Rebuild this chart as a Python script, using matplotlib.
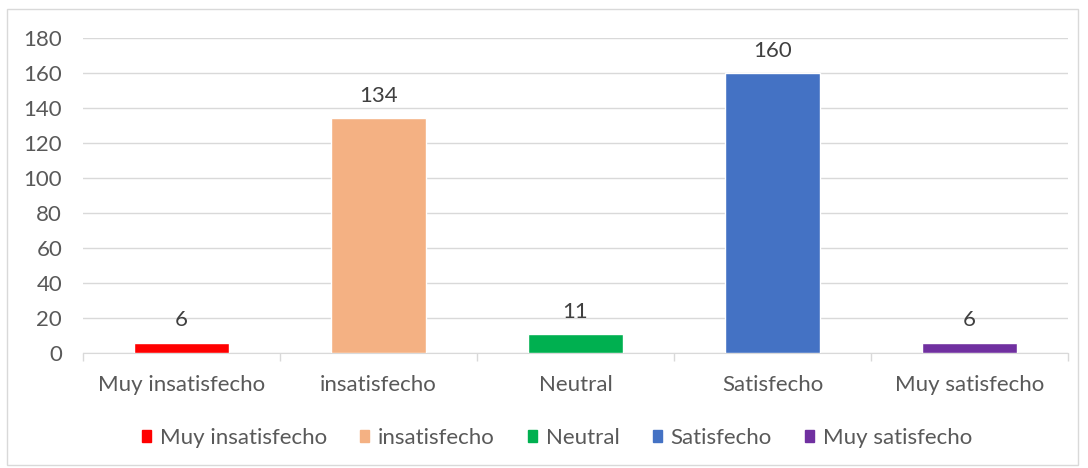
import matplotlib.pyplot as plt
from matplotlib.patches import Rectangle

# Data
categories = ['Muy insatisfecho', 'insatisfecho', 'Neutral', 'Satisfecho', 'Muy satisfecho']
values = [6, 134, 11, 160, 6]
colors = ['#FF0000', '#F4B183', '#00B050', '#4472C4', '#7030A0']
yticks = [0, 20, 40, 60, 80, 100, 120, 140, 160, 180]

plt.rcParams['font.family'] = ['Lato', 'DejaVu Sans']
text_color = '#595959'
fs = 16

fig = plt.figure(figsize=(10.88, 4.68), dpi=100)
ax = fig.add_axes([83 / 1088, 1 - 353 / 468, (1068 - 83) / 1088, (353 - 38) / 468])

# Chart border
fig.patches.append(Rectangle((7 / 1088, 3 / 468), (1078 - 7) / 1088, (459 - 3) / 468,
                             transform=fig.transFigure, fill=False,
                             edgecolor='#D9D9D9', linewidth=1))

x = range(len(categories))
bars = ax.bar(x, values, width=0.48, color=colors, edgecolor='white', linewidth=1,
              zorder=3)

for i, v in enumerate(values):
    ax.text(i, v + 7, str(v), ha='center', va='bottom', fontsize=fs, color='#404040', zorder=4)

ax.set_ylim(0, 180)
ax.set_xlim(-0.5, len(categories) - 0.5)
ax.set_yticks(yticks)
ax.yaxis.grid(True, color='#D9D9D9', linewidth=1, zorder=0)
ax.tick_params(axis='y', length=0, labelsize=fs, labelcolor=text_color, pad=15)

ax.set_xticks(list(x))
ax.set_xticklabels(categories)
ax.set_xticks([i - 0.5 for i in range(len(categories) + 1)], minor=True)
ax.tick_params(axis='x', which='major', length=0, labelsize=fs, labelcolor=text_color, pad=16)
ax.tick_params(axis='x', which='minor', length=6, color='#D9D9D9', width=1)

for s in ['top', 'right', 'left']:
    ax.spines[s].set_visible(False)
ax.spines['bottom'].set_color('#D9D9D9')

handles = [Rectangle((0, 0), 1, 1, color=c) for c in colors]
fig.legend(handles, categories, loc='center', bbox_to_anchor=(0.512, 1 - 438 / 468),
           ncol=5, frameon=False, fontsize=fs, labelcolor=text_color,
           handlelength=0.4, handleheight=0.4, handletextpad=0.4, columnspacing=1.5)

fig.savefig('out.png', dpi=100)
